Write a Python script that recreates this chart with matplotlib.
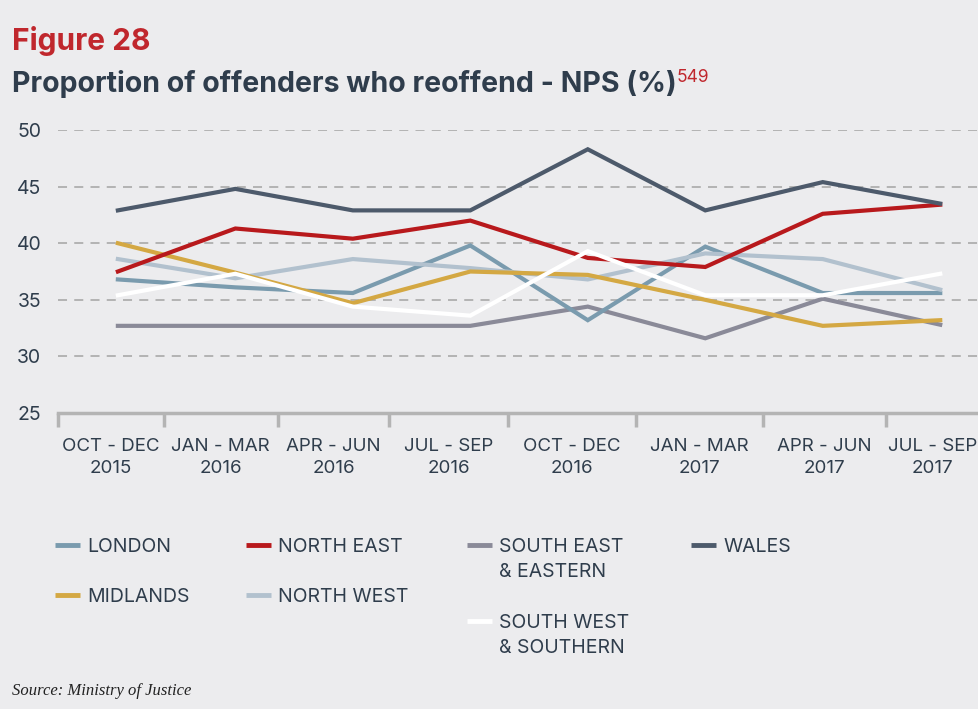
import matplotlib.pyplot as plt
import matplotlib.lines as mlines

plt.rcParams['font.family'] = ['Inter', 'DejaVu Sans']

quarters = ['OCT - DEC\n2015', 'JAN - MAR\n2016', 'APR - JUN\n2016', 'JUL - SEP\n2016',
            'OCT - DEC\n2016', 'JAN - MAR\n2017', 'APR - JUN\n2017', 'JUL - SEP\n2017']

london = [36.8, 36.1, 35.6, 39.8, 33.2, 39.7, 35.6, 35.6]
north_east = [37.5, 41.3, 40.4, 42.0, 38.7, 37.9, 42.6, 43.4]
south_east = [32.7, 32.7, 32.7, 32.7, 34.4, 31.6, 35.1, 32.8]
wales = [42.9, 44.8, 42.9, 42.9, 48.3, 42.9, 45.4, 43.5]
midlands = [40.0, 37.4, 34.7, 37.5, 37.2, 35.0, 32.7, 33.2]
north_west = [38.6, 36.9, 38.6, 37.8, 36.8, 39.1, 38.6, 35.9]
south_west = [35.4, 37.3, 34.4, 33.6, 39.3, 35.4, 35.4, 37.3]

BG = '#ECECEE'
TEXT = '#2F3D4C'
RED = '#C0272D'

series = [
    ('SOUTH EAST\n& EASTERN', south_east, '#8A8A98'),
    ('LONDON', london, '#7A9BAE'),
    ('NORTH WEST', north_west, '#B2C1CE'),
    ('MIDLANDS', midlands, '#D4A843'),
    ('NORTH EAST', north_east, '#B8191C'),
    ('WALES', wales, '#4D5A6B'),
    ('SOUTH WEST\n& SOUTHERN', south_west, '#FFFFFF'),
]

fig = plt.figure(figsize=(9.79, 7.09), dpi=100, facecolor=BG)
ax = fig.add_axes([0.0592, 0.4175, 0.9408, 0.3991], facecolor=BG)

x = list(range(len(quarters)))
for name, vals, col in series:
    ax.plot(x, vals, color=col, lw=3.0, solid_joinstyle='miter', zorder=3)

# category boundaries (tick marks) and label centres
bounds = [-0.51, 0.39, 1.36, 2.31, 3.32, 4.41, 5.49, 6.54, 7.33]
centres = [(bounds[i] + bounds[i + 1]) / 2 for i in range(len(quarters))]

ax.set_xlim(-0.51, 7.33)
ax.set_ylim(25, 50)
ax.set_yticks([25, 30, 35, 40, 45, 50])
for v in [30, 35, 40, 45, 50]:
    ax.axhline(v, color='#AEAEAE', lw=1.3, ls=(0, (5, 4)), zorder=1)

ax.set_xticks(centres)
ax.set_xticklabels(quarters, fontsize=13.5, color=TEXT, linespacing=1.4)
ax.set_xticks(bounds[:-1], minor=True)
ax.tick_params(axis='x', which='major', length=0, pad=18)
ax.tick_params(axis='x', which='minor', length=10, width=2.5, color='#B4B4B4')
ax.tick_params(axis='y', length=0, pad=12, labelsize=14, labelcolor=TEXT)

for s in ['top', 'right', 'left']:
    ax.spines[s].set_visible(False)
ax.spines['bottom'].set_color('#B4B4B4')
ax.spines['bottom'].set_linewidth(2.5)

W, H = 979.0, 709.0

# titles
fig.text(12 / W, 1 - 50 / H, 'Figure 28', color=RED, fontsize=21.5, fontweight='bold', va='baseline')
sub = fig.text(12 / W, 1 - 92 / H, 'Proportion of offenders who reoffend - NPS (%)', color=TEXT,
               fontsize=20.5, fontweight='bold', va='baseline')
fig.canvas.draw()
bb = sub.get_window_extent().transformed(fig.transFigure.inverted())
fig.text(bb.x1, 1 - 82 / H, '549', color=RED, fontsize=12.5, va='baseline')

# legend, drawn by hand
legend_items = [
    ('LONDON', '#7A9BAE', 55, 545),
    ('NORTH EAST', '#B8191C', 246, 545),
    ('SOUTH EAST\n& EASTERN', '#8A8A98', 467, 545),
    ('WALES', '#4D5A6B', 691, 545),
    ('MIDLANDS', '#D4A843', 55, 595),
    ('NORTH WEST', '#B2C1CE', 246, 595),
    ('SOUTH WEST\n& SOUTHERN', '#FFFFFF', 467, 621),
]
for label, col, px, py in legend_items:
    fy = 1 - py / H
    fig.add_artist(mlines.Line2D([px / W, (px + 25) / W], [fy, fy], color=col, lw=3.5,
                                 solid_capstyle='butt'))
    fig.text((px + 32) / W, 1 - (py - 7) / H, label, color=TEXT, fontsize=14,
             va='top', linespacing=1.5, ha='left')

fig.text(12 / W, 1 - 695 / H, 'Source: Ministry of Justice', fontsize=12, style='italic',
         family='Liberation Serif', color='#222222', va='baseline')

fig.savefig('out.png', dpi=100, facecolor=BG)
